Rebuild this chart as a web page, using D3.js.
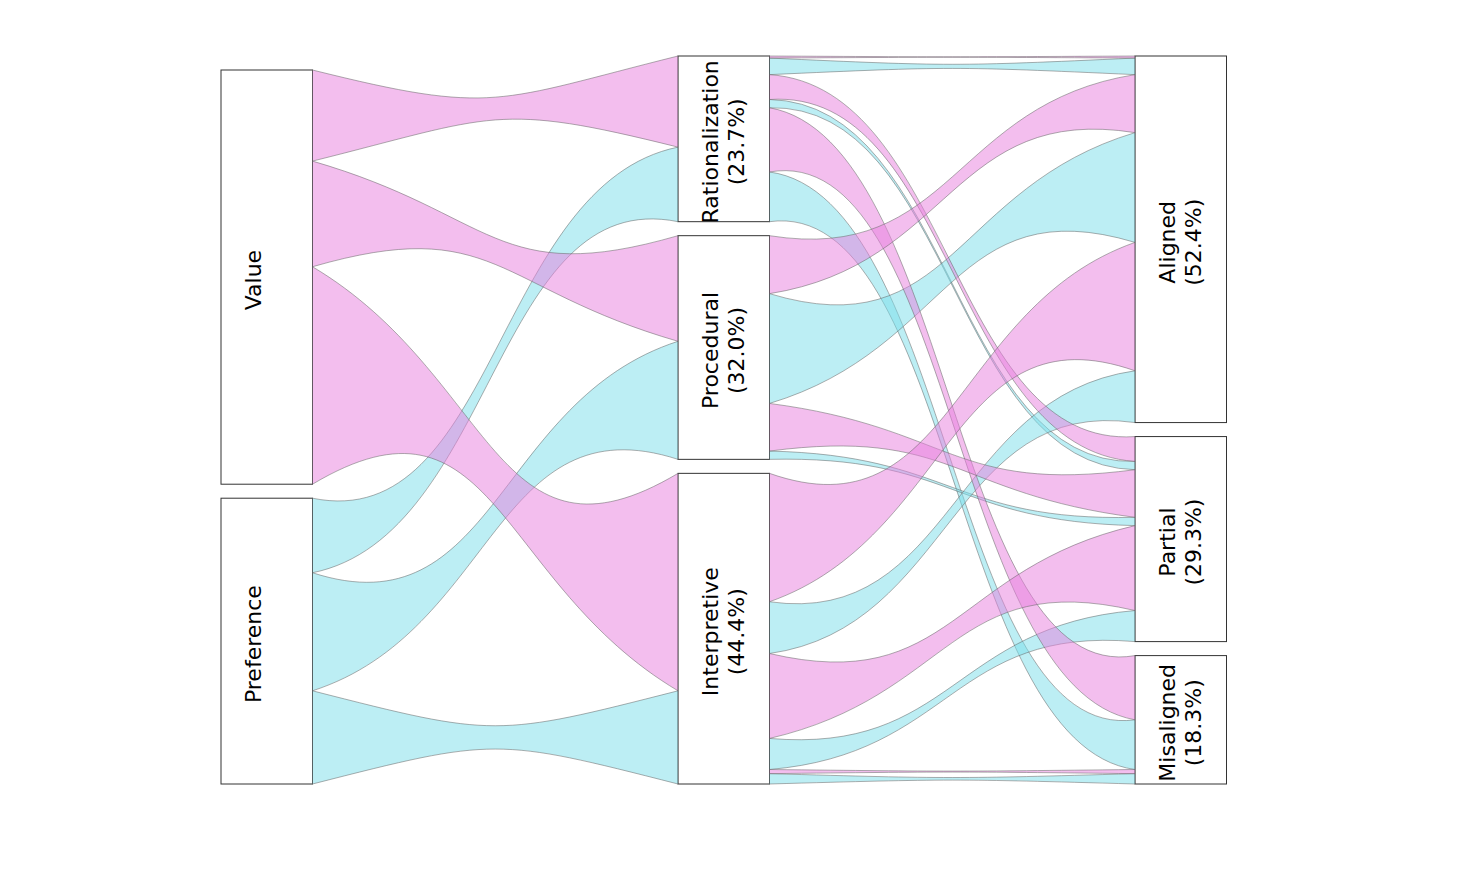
<!DOCTYPE html>
<html>
<head>
<meta charset="utf-8">
<script src="https://cdn.jsdelivr.net/npm/d3@7"></script>
<style>
  html, body { margin: 0; padding: 0; background: #fff; }
  svg { display: block; }
</style>
</head>
<body>
<div id="chart"></div>
<script>
const width = 1470, height = 869;

const sources = ["Value", "Preference"];
const middles = ["Rationalization", "Procedural", "Interpretive"];
const outcomes = ["Aligned", "Partial", "Misaligned"];

// counts, rows = middle category, columns = outcome
const valueFlows = [
  [1, 12, 31],
  [28, 23, 0],
  [62, 41, 2]
];
const preferenceFlows = [
  [8, 4, 24],
  [53, 4, 0],
  [25, 15, 5]
];

const sourceColors = ["#e77ddd", "#79dde9"];

// build records from the arrays
const records = [];
[valueFlows, preferenceFlows].forEach((table, si) => {
  table.forEach((row, mi) => {
    row.forEach((n, oi) => {
      records.push({ s: si, m: mi, o: oi, n });
    });
  });
});

const total = d3.sum(records, d => d.n);
const sum = f => d3.sum(records.filter(f), d => d.n);

const x = d3.scaleLinear().domain([0, 2]).range([221, 1135]);
const k = d3.scaleLinear().domain([0, total]).range([0, 700]);
const nodeW = 91.5;
const gap = 14;
const bottom = 784;

function layoutColumn(names, values, col) {
  const h = k(d3.sum(values)) + gap * (names.length - 1);
  let y = bottom - h;
  return names.map((name, i) => {
    const node = { name, col, value: values[i], y0: y, y1: y + k(values[i]) };
    y = node.y1 + gap;
    return node;
  });
}

const col1 = layoutColumn(sources, sources.map((_, i) => sum(d => d.s === i)), 0);
const col2 = layoutColumn(middles, middles.map((_, i) => sum(d => d.m === i)), 1);
const col3 = layoutColumn(outcomes, outcomes.map((_, i) => sum(d => d.o === i)), 2);

// links col1 -> col2 (aggregated by source, middle)
const links = [];
const outOff1 = col1.map(n => n.y0);
const inOff2 = col2.map(n => n.y0);
sources.forEach((_, si) => {
  middles.forEach((_, mi) => {
    const n = sum(d => d.s === si && d.m === mi);
    links.push({ s: si, x0: x(0) + nodeW, y0: outOff1[si], x1: x(1), y1: 0, h: k(n), n, mi });
    outOff1[si] += k(n);
  });
});
middles.forEach((_, mi) => {
  sources.forEach((_, si) => {
    const l = links.find(l => l.s === si && l.mi === mi);
    l.y1 = inOff2[mi];
    inOff2[mi] += l.h;
  });
});

// links col2 -> col3 (each source, middle, outcome)
const outOff2 = col2.map(n => n.y0);
const inOff3 = col3.map(n => n.y0);
const links2 = [];
middles.forEach((_, mi) => {
  outcomes.forEach((_, oi) => {
    sources.forEach((_, si) => {
      const r = records.find(d => d.s === si && d.m === mi && d.o === oi);
      if (!r.n) return;
      links2.push({ s: si, m: mi, o: oi, x0: x(1) + nodeW, y0: outOff2[mi], x1: x(2), y1: 0, h: k(r.n) });
      outOff2[mi] += k(r.n);
    });
  });
});
outcomes.forEach((_, oi) => {
  middles.forEach((_, mi) => {
    sources.forEach((_, si) => {
      const l = links2.find(l => l.s === si && l.m === mi && l.o === oi);
      if (!l) return;
      l.y1 = inOff3[oi];
      inOff3[oi] += l.h;
    });
  });
});

function ribbon(l) {
  const xm = (l.x0 + l.x1) / 2;
  const c0 = l.y0 + l.h / 2, c1 = l.y1 + l.h / 2;
  const p = d3.path();
  p.moveTo(l.x0, l.y0);
  p.bezierCurveTo(xm, c0, xm, c1, l.x1, l.y1);
  p.lineTo(l.x1, l.y1 + l.h);
  p.bezierCurveTo(xm, c1, xm, c0, l.x0, l.y0 + l.h);
  p.closePath();
  return p.toString();
}

const svg = d3.select("#chart").append("svg")
  .attr("width", width)
  .attr("height", height);

const nodes = [...col1, ...col2, ...col3];

svg.append("g")
  .selectAll("rect")
  .data(nodes)
  .join("rect")
  .attr("x", d => x(d.col))
  .attr("y", d => d.y0)
  .attr("width", nodeW)
  .attr("height", d => d.y1 - d.y0)
  .attr("fill", "#fff")
  .attr("stroke", "#333")
  .attr("stroke-width", 1);

// cyan first, pink on top
const allLinks = [...links, ...links2].sort((a, b) => b.s - a.s);
svg.append("g")
  .selectAll("path")
  .data(allLinks)
  .join("path")
  .attr("d", ribbon)
  .attr("fill", d => sourceColors[d.s])
  .attr("fill-opacity", 0.5)
  .attr("stroke", "#666")
  .attr("stroke-opacity", 0.75)
  .attr("stroke-width", 0.7);

const fmt = v => (v / total * 100).toFixed(1) + "%";
const label = svg.append("g")
  .attr("font-family", "DejaVu Sans, sans-serif")
  .attr("font-size", 22)
  .attr("fill", "#000");

nodes.forEach(d => {
  const cx = x(d.col) + nodeW / 2;
  const cy = (d.y0 + d.y1) / 2;
  const lines = d.col === 0 ? [d.name, ""] : [d.name, "(" + fmt(d.value) + ")"];
  const g = label.append("g").attr("transform", `translate(${cx},${cy}) rotate(-90)`);
  lines.forEach((t, i) => {
    g.append("text")
      .attr("x", -3)
      .attr("y", (i - 0.5) * 26)
      .attr("text-anchor", "middle")
      .attr("dominant-baseline", "central")
      .text(t);
  });
});
</script>
</body>
</html>
